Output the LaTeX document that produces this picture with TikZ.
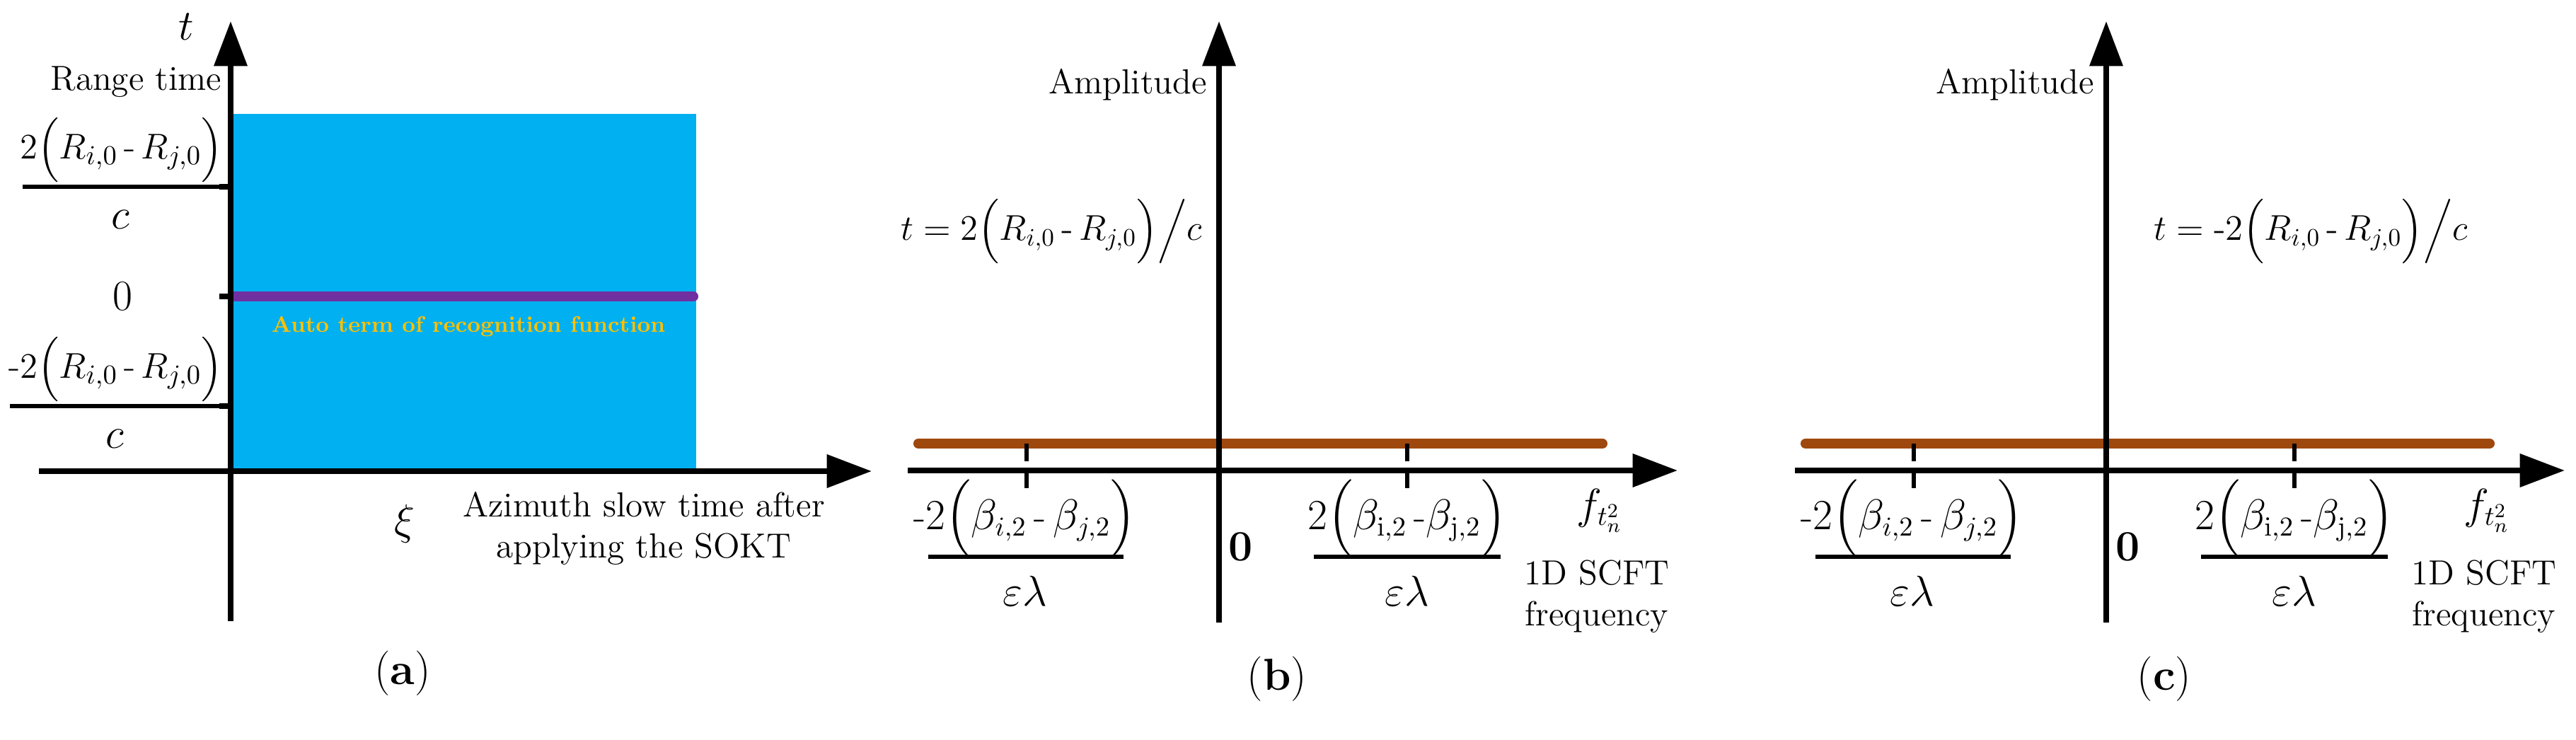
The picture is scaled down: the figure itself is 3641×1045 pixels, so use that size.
\documentclass[tikz,border=0pt]{standalone}
\usepackage{amsmath}
\usetikzlibrary{arrows.meta}
\definecolor{skyb}{HTML}{00B0F0}
\definecolor{purp}{HTML}{7030A0}
\definecolor{autoc}{HTML}{FFC000}
\definecolor{brn}{HTML}{9E480E}
\tikzset{
  ax/.style={line width=2.2pt,-{Triangle[length=18pt,width=13pt]}},
  lbl/.style={font=\fontsize{14}{16.5}\selectfont,align=center,inner sep=0pt},
  frac/.style={font=\fontsize{16}{19}\selectfont,inner sep=0pt},
  fraca/.style={font=\fontsize{15}{18}\selectfont,inner sep=0pt},
  fracb/.style={font=\fontsize{14.5}{17}\selectfont,inner sep=0pt},
  captn/.style={font=\fontsize{18}{21}\selectfont,inner sep=0pt},
  bar/.style={line width=1.5pt},
  tickl/.style={line width=2pt},
  dtick/.style={line width=1.5pt,dash pattern=on 7pt off 5pt}
}
\newcommand{\pnum}{2\Bigl(R_{i,0}\,\text{-}\,R_{j,0}\Bigr)}
\begin{document}
\begin{tikzpicture}[x=0.01cm,y=-0.01cm]
\useasboundingbox (0,0) rectangle (3641,1045);
% ---------- (a)
\fill[skyb] (329,161) rectangle (984,666);
\draw[purp,line width=4pt,line cap=round] (330,419) -- (980,419);
\node[font=\bfseries\fontsize{9}{11}\selectfont,text=autoc] (auto) at (662,462) {Auto term of recognition function};
\coordinate (ay0) at (326,878); \coordinate (ay1) at (326,30);
\coordinate (ax0) at (55,666); \coordinate (ax1) at (1232,666);
\draw[ax] (ay0) -- (ay1);
\draw[ax] (ax0) -- (ax1);
\node[frac] (ta) at (263,38) {$t$};
\node[lbl,anchor=east] (rt) at (314,116) {Range time};
\draw[tickl] (310,264) -- (326,264);
\draw[tickl] (310,419) -- (326,419);
\draw[tickl] (310,574) -- (326,574);
\draw[bar] (32,264) -- (310,264);
\draw[bar] (14,574) -- (310,574);
\node[fraca] (n1) at (172,212) {$\pnum$};
\node[frac] (d1) at (170,310) {$c$};
\node[frac] (z1) at (173,419) {$0$};
\node[fraca] (n2) at (164,522) {$\text{-}\pnum$};
\node[frac] (d2) at (162,620) {$c$};
\node[frac] (xi) at (572,740) {$\xi$};
\node[lbl] (azl) at (910,747) {Azimuth slow time after\\applying the SOKT};
\node[captn] (ca) at (569,952) {(\textbf{a})};
% ---------- (b) and (c)
\foreach \dx/\pn/\sgn/\fx/\anc in {0/b//1700/east, 1254/c/\text{-}/1790/west} {
\begin{scope}[xshift=\dx*0.01cm]
\coordinate (by0-\pn) at (1723,880); \coordinate (by1-\pn) at (1723,30);
\coordinate (bx0-\pn) at (1283,665); \coordinate (bx1-\pn) at (2371,665);
\draw[brn,line width=4pt,line cap=round] (1298,627) -- (2265,627);
\draw[ax] (by0-\pn) -- (by1-\pn);
\draw[ax] (bx0-\pn) -- (bx1-\pn);
\draw[dtick] (1451,627) -- (1451,690);
\draw[dtick] (1989,627) -- (1989,690);
\node[lbl] (amp-\pn) at (1594,120) {Amplitude};
\node[fracb,anchor=\anc] (tf-\pn) at (\fx,327) {$t = \sgn 2\Bigl(R_{i,0}\,\text{-}\,R_{j,0}\Bigr)\Big/c$};
\draw[bar] (1312,787) -- (1588,787);
\node[frac] (ln-\pn) at (1449,733) {$\text{-}2\Bigl(\beta_{i,2}\,\text{-}\,\beta_{j,2}\Bigr)$};
\node[frac] (ld-\pn) at (1449,835) {$\varepsilon\lambda$};
\node[frac] (zb-\pn) at (1754,773) {$\mathbf{0}$};
\draw[bar] (1857,787) -- (2121,787);
\node[frac] (rn-\pn) at (1989,733) {$2\Bigl(\beta_{\mathrm{i},2}\,\text{-}\beta_{\mathrm{j},2}\Bigr)$};
\node[frac] (rd-\pn) at (1989,835) {$\varepsilon\lambda$};
\node[frac] (ff-\pn) at (2261,722) {$f_{t_n^2}$};
\node[lbl] (sc-\pn) at (2257,843) {1D SCFT\\frequency};
\node[captn] (cb-\pn) at (1805,960) {(\textbf{\pn})};
\end{scope}}
\end{tikzpicture}
\end{document}
